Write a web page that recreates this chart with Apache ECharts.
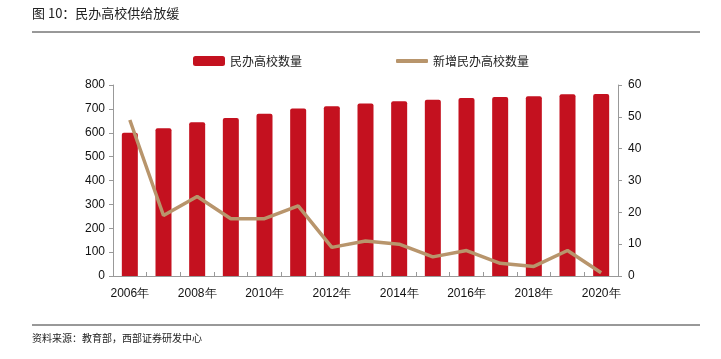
<!DOCTYPE html>
<html><head><meta charset="utf-8">
<script src="https://cdn.jsdelivr.net/npm/echarts@6/dist/echarts.min.js"></script>
<style>html,body{margin:0;padding:0;background:#fff}#c{width:721px;height:359px}</style>
</head><body><div id="c"></div>
<script>
const years = ['2006年','2007年','2008年','2009年','2010年','2011年','2012年','2013年','2014年','2015年','2016年','2017年','2018年','2019年','2020年'];
const schools = [600,619,644,662,680,702,711,722,732,738,746,750,753,761,762];
const newSchools = [49,19,25,18,18,22,9,11,10,6,8,4,3,8,1];
const leftTicks = [0,800,100];
const rightTicks = [0,60,10];

const cjk = '"Noto Sans CJK SC", sans-serif';
const num = '"Liberation Sans", Arial, sans-serif';
const chart = echarts.init(document.getElementById('c'), null, {renderer:'canvas'});
chart.setOption({
  animation:false,
  backgroundColor:'#fff',
  graphic:[
    {type:'text', left:32, top:7, style:{text:'图 10：民办高校供给放缓', font:'13px '+cjk, fill:'#222'}},
    {type:'line', shape:{x1:32,y1:32,x2:700,y2:32}, style:{stroke:'#333', lineWidth:1}},
    {type:'line', shape:{x1:32,y1:325,x2:700,y2:325}, style:{stroke:'#333', lineWidth:1}},
    {type:'text', left:32, top:333, style:{text:'资料来源：教育部，西部证券研发中心', font:'10px '+cjk, fill:'#222'}}
  ],
  legend:[
    {data:[{name:'民办高校数量', icon:'roundRect'}], left:193, top:55, padding:0, itemWidth:32, itemHeight:10, itemGap:5,
     textStyle:{fontFamily:cjk, fontSize:12, color:'#222'}},
    {data:[{name:'新增民办高校数量', icon:'roundRect'}], left:396, top:55, padding:0, itemWidth:32, itemHeight:4, itemGap:5,
     textStyle:{fontFamily:cjk, fontSize:12, color:'#222'}}
  ],
  grid:{left:113, right:103, top:85, bottom:83, containLabel:false},
  xAxis:{type:'category', data:years, boundaryGap:true,
    axisLine:{lineStyle:{color:'#999'}},
    axisTick:{show:true, interval:0, length:4, inside:true, lineStyle:{color:'#999'}},
    axisLabel:{interval:1, color:'#111', fontFamily:num, fontSize:12, margin:12}
  },
  yAxis:[
    {type:'value', min:leftTicks[0], max:leftTicks[1], interval:leftTicks[2],
     axisLine:{show:true, lineStyle:{color:'#999'}},
     axisTick:{show:true, length:4, lineStyle:{color:'#999'}},
     splitLine:{show:false},
     axisLabel:{color:'#111', fontFamily:num, fontSize:12, margin:8}},
    {type:'value', min:rightTicks[0], max:rightTicks[1], interval:rightTicks[2], position:'right',
     axisLine:{show:true, lineStyle:{color:'#999'}},
     axisTick:{show:true, length:4, lineStyle:{color:'#999'}},
     splitLine:{show:false},
     axisLabel:{color:'#111', fontFamily:num, fontSize:12, margin:10}}
  ],
  series:[
    {name:'民办高校数量', type:'bar', data:schools, barWidth:16, yAxisIndex:0,
     itemStyle:{color:'#C4111F', borderRadius:[2,2,0,0]}},
    {name:'新增民办高校数量', type:'line', data:newSchools, yAxisIndex:1, symbol:'none',
     lineStyle:{color:'#B8956C', width:3.5}, itemStyle:{color:'#B8956C'}}
  ]
});
</script></body></html>
